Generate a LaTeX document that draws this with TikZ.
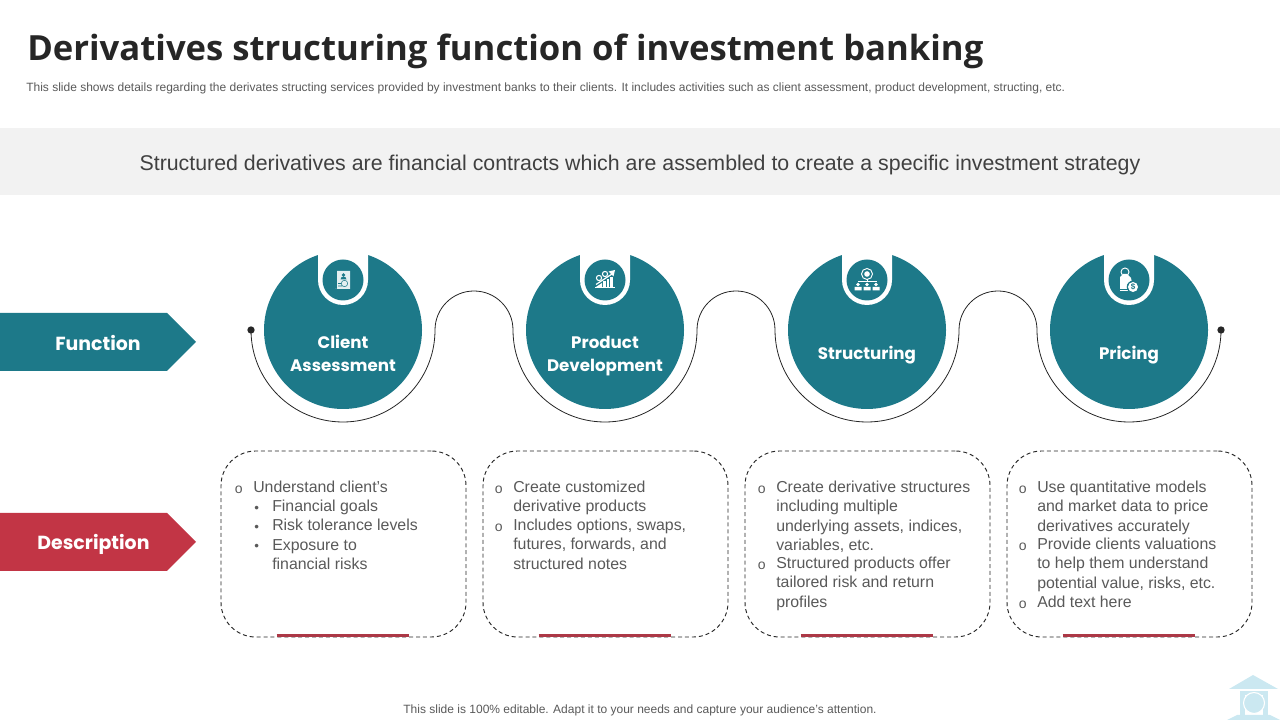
\documentclass[tikz,border=0pt]{standalone}
\usepackage{fontspec}
\usepackage{xcolor}
\usetikzlibrary{positioning, calc}
\setmainfont{Liberation Sans}
\newfontfamily\titlefont{Open Sans}
\newfontfamily\stepfont{Poppins}
\definecolor{bankteal}{RGB}{29, 121, 137}
\definecolor{bankred}{RGB}{194, 53, 69}
\definecolor{barred}{RGB}{172, 56, 70}
\definecolor{bandgrey}{RGB}{242, 242, 242}
\definecolor{bodygrey}{RGB}{89, 89, 89}
\definecolor{markblue}{RGB}{203, 232, 241}
\tikzset{
    titletext/.style={anchor=base west, inner sep=0pt, text=black!85, font=\titlefont\bfseries\fontsize{26pt}{32pt}\selectfont},
    smalltext/.style={inner sep=0pt, text=bodygrey, font=\fontsize{9pt}{11pt}\selectfont},
    bandtext/.style={inner sep=0pt, text=black!75, font=\fontsize{16pt}{18pt}\selectfont},
    rowtext/.style={inner sep=0pt, text=white, font=\stepfont\bfseries\fontsize{14.2pt}{18pt}\selectfont},
    stepcircle/.style={circle, fill=bankteal, minimum size=118.5pt, inner sep=0pt},
    steptext/.style={inner sep=0pt, align=center, text=white, font=\stepfont\bfseries\fontsize{12.5pt}{17.25pt}\selectfont},
    dotmark/.style={circle, fill=black!85, minimum size=5.5pt, inner sep=0pt},
    wave/.style={draw=black!85, line width=0.6pt},
    infobox/.style={rectangle, rounded corners=26pt, draw=black!85, line width=0.7pt, dash pattern=on 3pt off 2.2pt, minimum width=183.75pt, minimum height=139.5pt},
    accentbar/.style={draw=barred, line width=2.25pt},
    bodytext/.style={anchor=north west, inner sep=0pt, align=left, text=bodygrey, font=\fontsize{11.9pt}{14.4pt}\selectfont},
    ringtext/.style={bodytext, font=\fontsize{10.5pt}{14.4pt}\selectfont},
    dottext/.style={bodytext, font=\fontsize{10pt}{14.4pt}\selectfont},
    notch/.pic={
        \fill[white] (-25,45) -- (-25,0) arc (180:360:25) -- (25,45) -- cycle;
        \fill[bankteal] (0,0) circle (20.5);
    },
    clienticon/.pic={
        \fill[white!88!bankteal] (-8,-9) -- (-6,-9) -- (-6,9) -- (7,9) -- (7,-9) -- cycle;
        \fill[bankteal] (0.5,5) circle (1.8);
        \fill[bankteal] (-2.5,0.5) arc (180:0:3) -- cycle;
        \draw[bankteal, line width=0.4pt] (1.5,-3.5) circle (3.2) (-5,-3.5) -- (-1.7,-3.5) (-5,-6) -- (-1,-6);
    },
    producticon/.pic={
        \fill[white] (-10,-8) rectangle (10,-7);
        \fill[white] (-9,-7) -- (-3,-3) -- (-3,-7) -- cycle;
        \fill[white] (-2,-7) rectangle (0.5,-1.5);
        \fill[white] (1.5,-7) rectangle (4,0.5);
        \fill[white] (5,-7) rectangle (8,3);
        \draw[white, line width=0.9pt] (-9,-4.5) -- (7,6);
        \fill[white] (10,10) -- (3.5,8.5) -- (8.5,3.5) -- cycle;
        \draw[white, line width=0.8pt] (-6,2) circle (2.6) (0,6) circle (2.6);
    },
    structureicon/.pic={
        \draw[white, line width=0.7pt] (0,6) circle (5.5);
        \fill[white] (0,6) circle (2.8);
        \draw[white, line width=0.5pt] (-9,-2.5) -- (-9,-1) -- (9,-1) -- (9,-2.5) (0,0.5) -- (0,-2.5);
        \fill[white] (-9,-4.5) circle (1.9) (0,-4.5) circle (1.9) (9,-4.5) circle (1.9);
        \fill[white] (-12.5,-10.5) rectangle (-5.5,-6.8) (-3.5,-10.5) rectangle (3.5,-6.8) (5.5,-10.5) rectangle (12.5,-6.8);
    },
    pricingicon/.pic={
        \fill[white] (-9,-9) -- (-9,3) -- (-6,6) -- (-2,6) -- (2,2) -- (3,-3) -- (-1,-9) -- cycle;
        \draw[white, line width=0.7pt] (-4,8) circle (4);
        \fill[white] (-9,-11) rectangle (-1,-10);
        \fill[bankteal] (4,-7) circle (6.3);
        \fill[white] (4,-7) circle (5);
        \node[inner sep=0pt, text=bankteal, font=\bfseries\fontsize{6pt}{6pt}\selectfont] (dollarsign) at (4,-7) {\$};
    },
    bankmark/.pic={
        \fill[markblue] (0,45) -- (25,31) -- (-24,31) -- cycle;
        \fill[markblue] (-13,29) rectangle (15,4);
        \fill[white] (-8,25) rectangle (10,5);
        \filldraw[fill=markblue, draw=white, line width=0.8pt] (1,17) circle (10.5);
        \fill[markblue] (-26,0) -- (27,0) -- (17,5) -- (-16,5) -- cycle;
    }
}
\begin{document}
\begin{tikzpicture}[x=0.75pt, y=0.75pt]
    \useasboundingbox (0,0) rectangle (1280,720);

    % Heading
    \node[titletext] (title) at (27,659) {Derivatives structuring function of investment banking};
    \node[smalltext, anchor=base west] (subtitle) at (26,628.5) {This slide shows details regarding the derivates structing services provided by investment banks to their clients. It includes activities such as client assessment, product development, structing, etc.};
    \fill[bandgrey] (0,525) rectangle (1280,592);
    \node[bandtext] (band) at (640,555) {Structured derivatives are financial contracts which are assembled to create a specific investment strategy};

    % Row labels
    \fill[bankteal] (0,407) -- (167,407) -- (196,378) -- (167,349) -- (0,349) -- cycle;
    \node[rowtext] (function) at (98,377) {Function};
    \fill[bankred] (0,207) -- (167,207) -- (196,178) -- (167,149) -- (0,149) -- cycle;
    \node[rowtext] (description) at (93.5,175.5) {Description};

    % Steps
    \node[stepcircle] (client) at (343,390) {};
    \node[stepcircle] (product) at (605,390) {};
    \node[stepcircle] (structuring) at (867,390) {};
    \node[stepcircle] (pricing) at (1129,390) {};
    \pic at (343,440) {notch};
    \pic at (605,440) {notch};
    \pic at (867,440) {notch};
    \pic at (1129,440) {notch};
    \pic at (343,440) {clienticon};
    \pic at (605,440) {producticon};
    \pic at (867,440) {structureicon};
    \pic at (1129,440) {pricingicon};
    \node[steptext] at (343,367) {Client\\Assessment};
    \node[steptext] at (605,364) {Product\\Development};
    \node[steptext] at (867,365) {Structuring};
    \node[steptext] at (1129,365) {Pricing};

    % Connecting line
    \node[dotmark] (start) at (251,390) {};
    \node[dotmark] (end) at (1221,390) {};
    \draw[wave] (start.center) arc (180:360:92) arc (180:0:39) arc (180:360:92) arc (180:0:39) arc (180:360:92) arc (180:0:39) arc (180:360:92) -- (end.center);

    % Boxes
    \node[infobox] (boxa) at (343.5,176) {};
    \node[infobox] (boxb) at (605.5,176) {};
    \node[infobox] (boxc) at (867.5,176) {};
    \node[infobox] (boxd) at (1129.5,176) {};
    \draw[accentbar] ([xshift=-50.2pt, yshift=1.5pt]boxa.south) -- ([xshift=48.8pt, yshift=1.5pt]boxa.south);
    \draw[accentbar] ([xshift=-50.2pt, yshift=1.5pt]boxb.south) -- ([xshift=48.8pt, yshift=1.5pt]boxb.south);
    \draw[accentbar] ([xshift=-50.2pt, yshift=1.5pt]boxc.south) -- ([xshift=48.8pt, yshift=1.5pt]boxc.south);
    \draw[accentbar] ([xshift=-50.2pt, yshift=1.5pt]boxd.south) -- ([xshift=48.8pt, yshift=1.5pt]boxd.south);

    % Box texts
    \node[ringtext] at (234.5,234) {o};
    \node[bodytext] at (253,239) {Understand client's};
    \node[dottext] at (254,214) {\textbullet\\\textbullet\\\textbullet};
    \node[bodytext] at (272,220) {Financial goals\\Risk tolerance levels\\Exposure to\\financial risks};

    \node[ringtext] at (494.5,234) {o};
    \node[bodytext] at (513,239) {Create customized\\derivative products};
    \node[ringtext] at (494.5,196) {o};
    \node[bodytext] at (513,201) {Includes options, swaps,\\futures, forwards, and\\structured notes};

    \node[ringtext] at (757.5,234) {o};
    \node[bodytext] at (776,239) {Create derivative structures\\including multiple\\underlying assets, indices,\\variables, etc.};
    \node[ringtext] at (757.5,158) {o};
    \node[bodytext] at (776,163) {Structured products offer\\tailored risk and return\\profiles};

    \node[ringtext] at (1018.5,234) {o};
    \node[bodytext] at (1037,239) {Use quantitative models\\and market data to price\\derivatives accurately};
    \node[ringtext] at (1018.5,177) {o};
    \node[bodytext] at (1037,182) {Provide clients valuations\\to help them understand\\potential value, risks, etc.};
    \node[ringtext] at (1018.5,119) {o};
    \node[bodytext] at (1037,124) {Add text here};

    % Footer
    \node[smalltext] (footer) at (640,9.5) {This slide is 100\% editable. Adapt it to your needs and capture your audience's attention.};
    \pic at (1253,0) {bankmark};

\end{tikzpicture}
\end{document}
